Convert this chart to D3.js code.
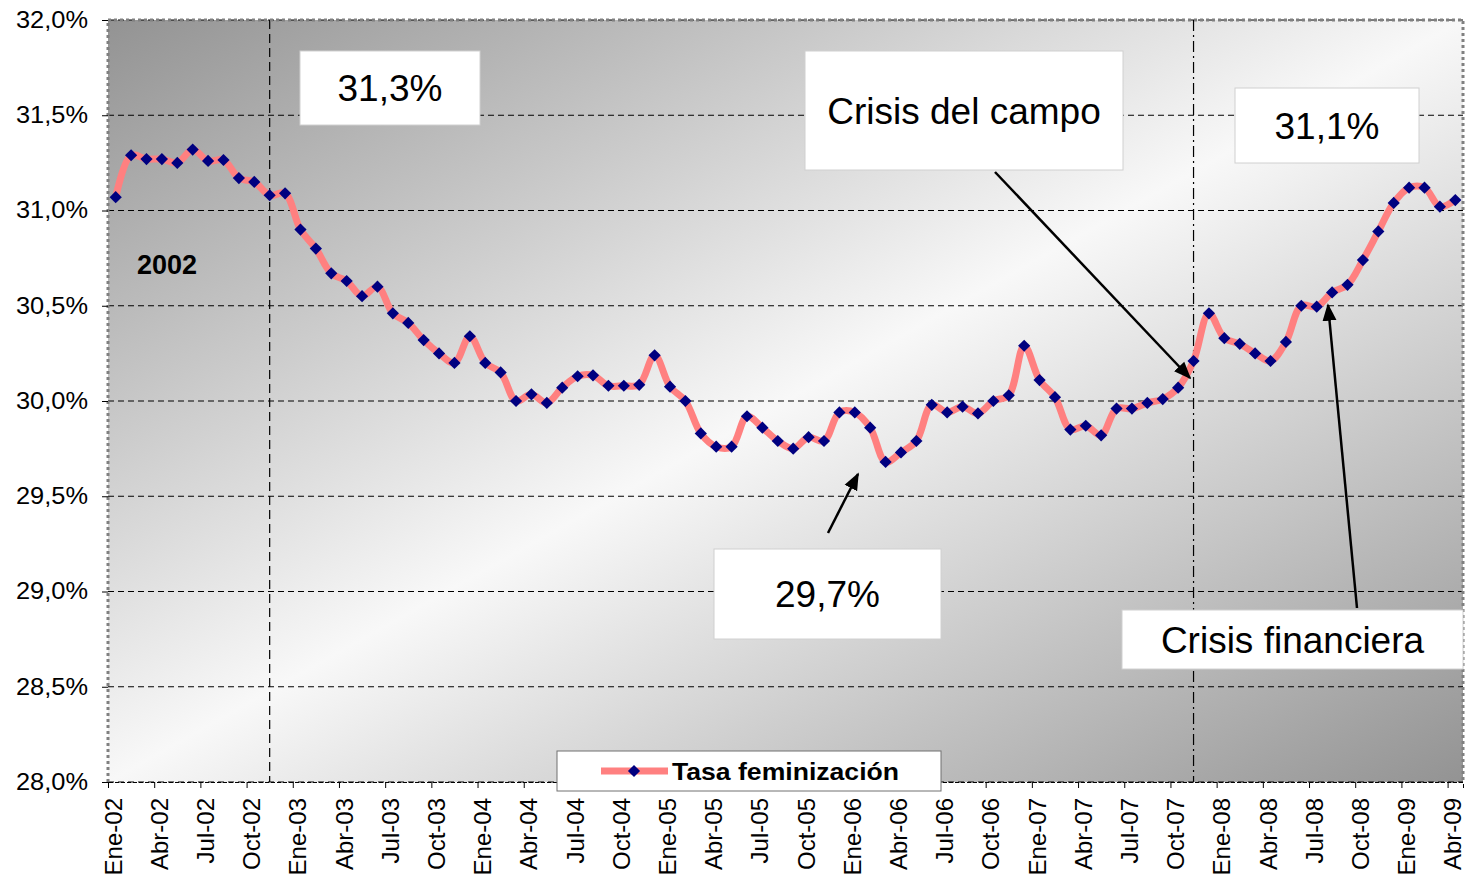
<!DOCTYPE html>
<html>
<head>
<meta charset="utf-8">
<script src="https://cdn.jsdelivr.net/npm/d3@7"></script>
<style>
    body { margin: 0; background: #ffffff; }
    #chart-area { width: 1465px; height: 886px; }
    text { font-family: "Liberation Sans", Arial, sans-serif; }
</style>
</head>
<body>
<div id="chart-area"></div>
<script>
// ---- data ----
let monthNames = ["Ene", "Feb", "Mar", "Abr", "May", "Jun", "Jul", "Ago", "Sep", "Oct", "Nov", "Dic"];
let years = ["02", "03", "04", "05", "06", "07", "08", "09"];
let lastYearMonths = 4; // 2009 runs Ene..Abr

// tasa de feminizacion (%), one value per month Ene-02 .. Abr-09
let tasaFeminizacion = [
    31.07, 31.29, 31.27, 31.27, 31.25, 31.32, 31.26, 31.265, 31.17, 31.15, 31.08, 31.09,
    30.90, 30.80, 30.67, 30.63, 30.55, 30.60, 30.46, 30.41, 30.32, 30.25, 30.20, 30.34,
    30.20, 30.15, 30.00, 30.035, 29.99, 30.07, 30.13, 30.135, 30.08, 30.08, 30.085, 30.24,
    30.075, 30.00, 29.83, 29.76, 29.76, 29.92, 29.86, 29.79, 29.75, 29.81, 29.79, 29.94,
    29.94, 29.86, 29.68, 29.73, 29.79, 29.98, 29.94, 29.97, 29.935, 30.00, 30.03, 30.29,
    30.11, 30.02, 29.85, 29.87, 29.82, 29.96, 29.96, 29.99, 30.01, 30.07, 30.21, 30.46,
    30.33, 30.30, 30.25, 30.21, 30.31, 30.50, 30.495, 30.57, 30.61, 30.74, 30.89, 31.04,
    31.12, 31.12, 31.02, 31.055
];

let yTicks = [28.0, 28.5, 29.0, 29.5, 30.0, 30.5, 31.0, 31.5, 32.0];

// reference lines: dashed one at Nov-02, dash-dot one at Nov-07
let refLines = [
    {month: "Nov-02", dash: "9,5"},
    {month: "Nov-07", dash: "11,4,2,4"}
];

// text boxes and arrows on the chart
let callouts = [
    {text: "31,3%", x0: 300, y0: 51, x1: 480, y1: 125},
    {text: "Crisis del campo", x0: 805, y0: 51, x1: 1123, y1: 170},
    {text: "31,1%", x0: 1235, y0: 88, x1: 1419, y1: 163},
    {text: "29,7%", x0: 714, y0: 549, x1: 941, y1: 639},
    {text: "Crisis financiera", x0: 1122, y0: 610, x1: 1463, y1: 669}
];
let arrows = [
    {from: [995, 172], to: [1190, 378]},
    {from: [828, 533], to: [858, 474]},
    {from: [1357, 608], to: [1328, 305]}
];

// build month categories
let categories = [];
years.forEach((yy, yi) => {
    let n = (yi === years.length - 1) ? lastYearMonths : 12;
    for (let m = 0; m < n; m++) {
        categories.push(monthNames[m] + "-" + yy);
    }
});
let seriesData = categories.map((c, i) => ({cat: c, value: tasaFeminizacion[i]}));

// ---- drawing ----
let margin = {top: 20, right: 2, bottom: 104, left: 108};
let totalW = 1465, totalH = 886;
let width = totalW - margin.left - margin.right;
let height = totalH - margin.top - margin.bottom;

let svgRoot = d3.select("#chart-area").append("svg")
    .attr("width", totalW)
    .attr("height", totalH);

// diagonal gray-white-gray background
let defs = svgRoot.append("defs");
let grad = defs.append("linearGradient")
    .attr("id", "bg-grad")
    .attr("x1", 0).attr("y1", 0).attr("x2", 1).attr("y2", 1);
grad.append("stop").attr("offset", "0%").attr("stop-color", "#939393");
grad.append("stop").attr("offset", "50%").attr("stop-color", "#f8f8f8");
grad.append("stop").attr("offset", "100%").attr("stop-color", "#939393");

defs.append("marker")
    .attr("id", "arrow-head")
    .attr("viewBox", "0 0 10 10")
    .attr("refX", 9).attr("refY", 5)
    .attr("markerWidth", 7).attr("markerHeight", 7)
    .attr("markerUnits", "strokeWidth")
    .attr("orient", "auto")
    .append("path")
    .attr("d", "M0,1 L10,5 L0,9 Z")
    .attr("fill", "black");

let svg = svgRoot.append("g")
    .attr("transform", `translate(${margin.left}, ${margin.top})`);

// scales
let x = d3.scaleBand().domain(categories).range([0, width]).padding(0);
let xIdx = d3.scaleLinear().domain([0, categories.length]).range([0, width]);
let y = d3.scaleLinear().domain([28, 32]).range([height, 0]);
let xc = (c) => x(c) + x.bandwidth() / 2;

svg.append("rect")
    .attr("width", width)
    .attr("height", height)
    .attr("fill", "url(#bg-grad)");

// horizontal gridlines
svg.selectAll(".grid-line")
    .data(yTicks)
    .enter()
    .append("line")
    .attr("class", "grid-line")
    .attr("x1", 0).attr("x2", width)
    .attr("y1", d => y(d)).attr("y2", d => y(d))
    .attr("stroke", "black")
    .attr("stroke-width", 1)
    .attr("stroke-dasharray", "6,4");

// vertical reference lines
svg.selectAll(".ref-line")
    .data(refLines)
    .enter()
    .append("line")
    .attr("class", "ref-line")
    .attr("x1", d => xc(d.month)).attr("x2", d => xc(d.month))
    .attr("y1", 0).attr("y2", height)
    .attr("stroke", "black")
    .attr("stroke-width", 1.2)
    .attr("stroke-dasharray", d => d.dash);

// plot border (top, left, right) in gray squares
svg.append("path")
    .attr("d", `M0,${height} L0,0 L${width},0 L${width},${height}`)
    .attr("fill", "none")
    .attr("stroke", "#808080")
    .attr("stroke-width", 3)
    .attr("stroke-dasharray", "3,3");

// y axis
let yAxis = d3.axisLeft(y)
    .tickValues(yTicks)
    .tickSize(6)
    .tickPadding(14)
    .tickFormat(d => d3.format(".1f")(d).replace(".", ",") + "%");
let yAxisG = svg.append("g").attr("class", "y-axis").call(yAxis);
yAxisG.select(".domain").remove();
yAxisG.selectAll("text")
    .attr("font-size", 23)
    .attr("fill", "black")
    .attr("textLength", 72)
    .attr("lengthAdjust", "spacingAndGlyphs");

// x axis: tick marks at category boundaries every 3 months
let xTickAxis = d3.axisBottom(xIdx)
    .tickValues(d3.range(0, categories.length, 3))
    .tickSize(6)
    .tickFormat("");
let xTickG = svg.append("g")
    .attr("transform", `translate(0, ${height})`)
    .call(xTickAxis);
xTickG.select(".domain").attr("stroke", "black").attr("stroke-dasharray", "4,2");

// x labels, rotated
let xLabelAxis = d3.axisBottom(x)
    .tickValues(categories.filter((c, i) => i % 3 === 0))
    .tickSize(0);
let xLabelG = svg.append("g")
    .attr("transform", `translate(0, ${height})`)
    .call(xLabelAxis);
xLabelG.select(".domain").remove();
xLabelG.selectAll("text")
    .attr("font-size", 24)
    .attr("fill", "black")
    .attr("text-anchor", "end")
    .attr("dy", null)
    .attr("y", 0)
    .attr("transform", "translate(6, 16) rotate(-90)");

// the series line (smoothed) and diamond markers
let line = d3.line()
    .x(d => xc(d.cat))
    .y(d => y(d.value))
    .curve(d3.curveCatmullRom.alpha(0.5));

svg.append("path")
    .datum(seriesData)
    .attr("fill", "none")
    .attr("stroke", "#ff8080")
    .attr("stroke-width", 7)
    .attr("stroke-linejoin", "round")
    .attr("d", line);

let diamond = d3.symbol().type(d3.symbolDiamond2).size(95);
svg.selectAll(".marker")
    .data(seriesData)
    .enter()
    .append("path")
    .attr("class", "marker")
    .attr("d", diamond)
    .attr("transform", d => `translate(${xc(d.cat)}, ${y(d.value)})`)
    .attr("fill", "#000080");

// "2002" label
svgRoot.append("text")
    .attr("x", 167).attr("y", 274)
    .attr("text-anchor", "middle")
    .attr("font-size", 27)
    .attr("font-weight", "bold")
    .text("2002");

// arrows
svgRoot.selectAll(".arrow")
    .data(arrows)
    .enter()
    .append("line")
    .attr("class", "arrow")
    .attr("x1", d => d.from[0]).attr("y1", d => d.from[1])
    .attr("x2", d => d.to[0]).attr("y2", d => d.to[1])
    .attr("stroke", "black")
    .attr("stroke-width", 2.5)
    .attr("marker-end", "url(#arrow-head)");

// callout boxes
let boxes = svgRoot.selectAll(".callout")
    .data(callouts)
    .enter()
    .append("g")
    .attr("class", "callout");
boxes.append("rect")
    .attr("x", d => d.x0).attr("y", d => d.y0)
    .attr("width", d => d.x1 - d.x0)
    .attr("height", d => d.y1 - d.y0)
    .attr("fill", "white")
    .attr("stroke", "#d0d0d0")
    .attr("stroke-width", 1);
boxes.append("text")
    .attr("x", d => (d.x0 + d.x1) / 2)
    .attr("y", d => (d.y0 + d.y1) / 2 + 13)
    .attr("text-anchor", "middle")
    .attr("font-size", 37)
    .text(d => d.text);

// legend
let legend = svgRoot.append("g").attr("class", "legend");
legend.append("rect")
    .attr("x", 557).attr("y", 751)
    .attr("width", 384).attr("height", 40)
    .attr("fill", "white")
    .attr("stroke", "#707070")
    .attr("stroke-width", 1);
legend.append("line")
    .attr("x1", 601).attr("x2", 668)
    .attr("y1", 771).attr("y2", 771)
    .attr("stroke", "#ff8080")
    .attr("stroke-width", 7);
legend.append("path")
    .attr("d", diamond)
    .attr("transform", "translate(634, 771)")
    .attr("fill", "#000080");
legend.append("text")
    .attr("x", 672).attr("y", 780)
    .attr("font-size", 24)
    .attr("font-weight", "bold")
    .attr("textLength", 227)
    .attr("lengthAdjust", "spacingAndGlyphs")
    .text("Tasa feminización");
</script>
</body>
</html>
